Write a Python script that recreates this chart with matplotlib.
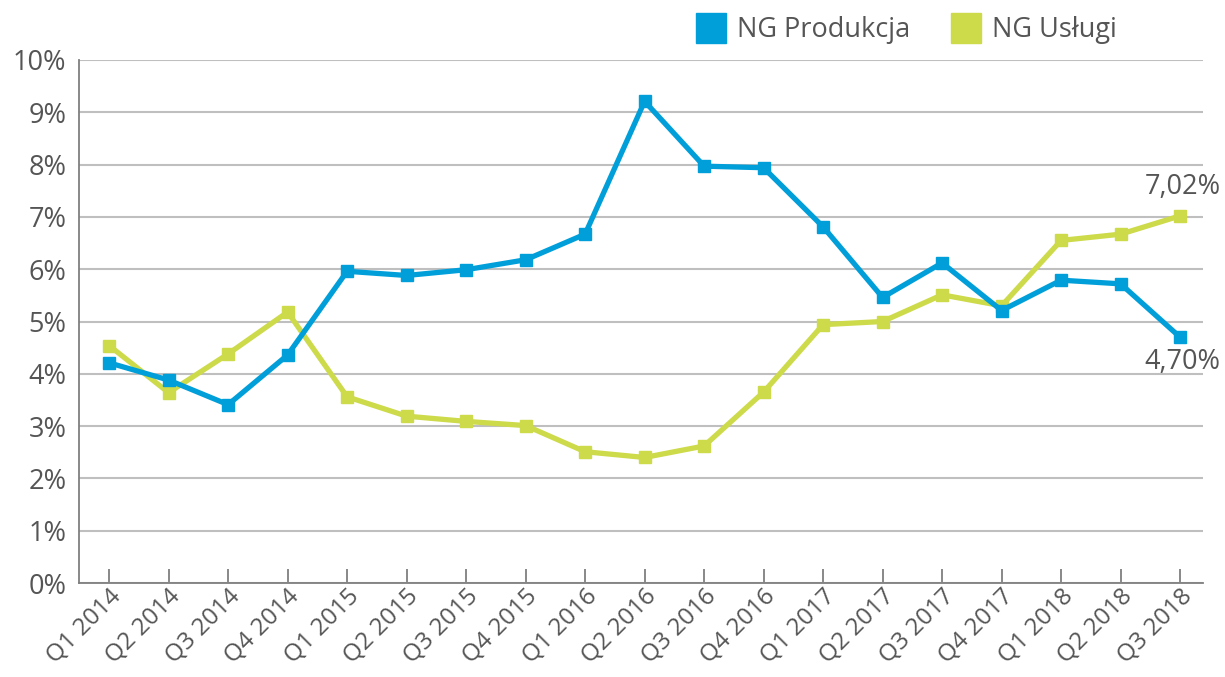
import matplotlib
matplotlib.use("Agg")
import matplotlib.pyplot as plt
from matplotlib.lines import Line2D

quarters = ["Q1 2014", "Q2 2014", "Q3 2014", "Q4 2014",
            "Q1 2015", "Q2 2015", "Q3 2015", "Q4 2015",
            "Q1 2016", "Q2 2016", "Q3 2016", "Q4 2016",
            "Q1 2017", "Q2 2017", "Q3 2017", "Q4 2017",
            "Q1 2018", "Q2 2018", "Q3 2018"]
produkcja = [4.21, 3.88, 3.41, 4.36, 5.96, 5.88, 5.99, 6.18, 6.67, 9.21,
             7.97, 7.94, 6.81, 5.46, 6.12, 5.21, 5.79, 5.72, 4.70]
uslugi = [4.54, 3.64, 4.38, 5.18, 3.56, 3.19, 3.09, 3.01, 2.51, 2.40,
          2.62, 3.65, 4.94, 5.00, 5.51, 5.30, 6.55, 6.67, 7.02]
yticks = [0, 1, 2, 3, 4, 5, 6, 7, 8, 9, 10]
series_names = ["NG Produkcja", "NG Usługi"]
end_labels = ["4,70%", "7,02%"]

BLUE = "#009FDA"
GREEN = "#CDDA4A"
TXT = "#555555"
FS = 19.5
plt.rcParams['font.family'] = ['Open Sans', 'DejaVu Sans']

fig = plt.figure(figsize=(12.25, 6.77), dpi=100)
ax = fig.add_axes([79/1225, 1-583/677, (1203-79)/1225, (583-60)/677])

x = list(range(len(quarters)))
ax.plot(x, uslugi, color=GREEN, lw=3.8, marker='s', ms=8, zorder=3)
ax.plot(x, produkcja, color=BLUE, lw=3.8, marker='s', ms=8, zorder=4)

ax.set_xlim(-0.506, 18.385)
ax.set_ylim(0, 10)
ax.set_yticks(yticks)
ax.set_yticklabels([f"{v}%" for v in yticks])
ax.set_xticks(x)
ax.set_xticklabels(quarters, rotation=45, ha='right', rotation_mode='anchor')
ax.grid(axis='y', color='#BFBFBF', lw=1.5)
ax.set_axisbelow(True)
for s in ['top', 'right']:
    ax.spines[s].set_visible(False)
for s in ['left', 'bottom']:
    ax.spines[s].set_color('#7F7F7F')
    ax.spines[s].set_linewidth(1.3)
ax.tick_params(axis='y', length=0, pad=9, labelsize=FS, labelcolor=TXT)
ax.tick_params(axis='x', direction='in', length=10, width=1.3, color='#7F7F7F',
               pad=1, labelsize=17.5, labelcolor=TXT)

ax.annotate(end_labels[1], (x[-1], uslugi[-1]), xytext=(2, 21), textcoords='offset points',
            ha='center', va='center', fontsize=FS, color=TXT)
ax.annotate(end_labels[0], (x[-1], produkcja[-1]), xytext=(2, -18), textcoords='offset points',
            ha='center', va='center', fontsize=FS, color=TXT)

handles = [Line2D([], [], marker='s', ls='none', ms=22, color=BLUE),
           Line2D([], [], marker='s', ls='none', ms=22, color=GREEN)]
fig.legend(handles, series_names, loc='upper left', bbox_to_anchor=(672/1225, 1.012),
           ncol=2, frameon=False, fontsize=FS, labelcolor=TXT, handletextpad=0.4,
           columnspacing=1.5, handlelength=1.1)

fig.savefig("out.png", dpi=100)
